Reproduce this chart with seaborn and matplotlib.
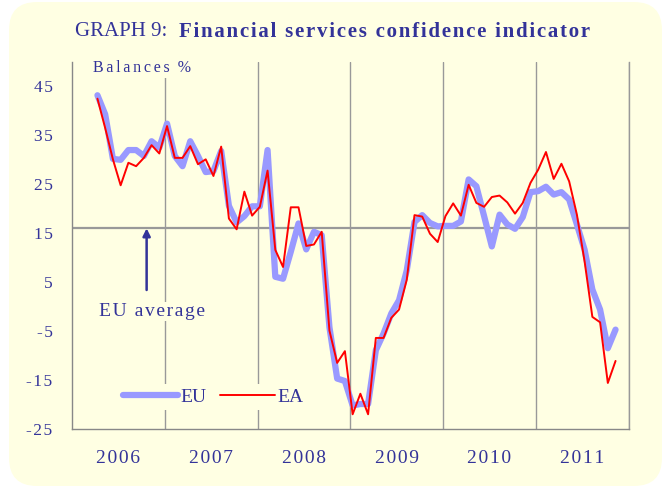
import numpy as np
import pandas as pd
import matplotlib
matplotlib.use('Agg')
import matplotlib.pyplot as plt
import seaborn as sns
from matplotlib.patches import FancyBboxPatch

# Style
sns.set_style('white')
plt.rcParams['font.family'] = ['Liberation Serif', 'DejaVu Serif']
plt.rcParams['axes.unicode_minus'] = False

navy = '#333399'
cream = '#FFFFE3'
grey = '#999999'

# letter spacing helper (the original export is letter spaced)
hair = '\u200a'

# ==========================================================
# Data (monthly balances, April 2006 - November 2011)
# ==========================================================

years = ['2006', '2007', '2008', '2009', '2010', '2011']
yticks = [-25, -15, -5, 5, 15, 25, 35, 45]
first_month = 3  # April 2006, counted from January 2006

eu = [43.2, 39.3, 30.2, 30.0, 32.0, 32.0, 30.8, 33.8, 32.5,
      37.4, 30.8, 28.7, 33.8, 30.8, 27.5, 27.7, 31.8, 20.6, 17.2, 18.5, 20.5, 20.5, 32.0,
      6.1, 5.7, 11.2, 17.0, 11.7, 15.3, 14.6, -4.2, -14.7, -15.2, -20.2, -19.9,
      -19.9, -8.9, -5.5, -1.4, 1.3, 7.4, 17.3, 18.7, 17.1, 16.4, 16.5, 16.5,
      17.4, 26.0, 24.6, 18.5, 12.3, 18.8, 16.8, 15.9, 18.3, 23.4, 23.6, 24.5,
      22.9, 23.4, 21.9, 16.8, 11.6, 3.5, -0.6, -8.5, -4.7]

ea = [42.5, 36.5, 30.1, 24.8, 29.4, 28.7, 30.4, 33.0, 31.3,
      36.9, 30.4, 30.4, 32.8, 29.1, 30.1, 26.7, 32.7, 18.0, 15.8, 23.5, 18.6, 20.4, 27.8,
      11.6, 8.1, 20.3, 20.3, 12.4, 12.7, 15.3, -4.9, -11.5, -9.1, -22.0, -17.8,
      -22.0, -6.4, -6.4, -2.3, -0.6, 5.5, 18.7, 18.4, 14.9, 13.2, 18.5, 21.1,
      18.6, 24.9, 21.2, 20.4, 22.4, 22.7, 21.3, 19.0, 21.2, 25.3, 28.0, 31.6,
      26.1, 29.2, 25.6, 18.8, 9.2, -2.1, -3.2, -15.6, -11.1]

eu_average = 16

months = np.arange(first_month, first_month + len(eu)) + 0.3

df = pd.DataFrame({
    'month': np.concatenate([months, months]),
    'value': eu + ea,
    'series': ['EU'] * len(eu) + ['EA'] * len(ea),
})

# ==========================================================
# Figure
# ==========================================================

fig = plt.figure(figsize=(6.66, 4.88), dpi=100, facecolor='white')

bg = FancyBboxPatch((0.09, 0.02), 6.53, 4.84,
                    boxstyle='round,pad=0,rounding_size=0.28',
                    transform=fig.dpi_scale_trans,
                    facecolor=cream, edgecolor='none', zorder=-10)
fig.add_artist(bg)

ax = fig.add_axes([0.108, 0.121, 0.836, 0.752])
ax.set_facecolor(cream)

sns.lineplot(data=df[df['series'] == 'EU'], x='month', y='value',
             color='#9999FF', linewidth=4.5, label='EU', ax=ax,
             solid_capstyle='round', zorder=3)
sns.lineplot(data=df[df['series'] == 'EA'], x='month', y='value',
             color='#FF0000', linewidth=1.4, label='EA', ax=ax, zorder=4)

ax.axhline(eu_average, color=grey, lw=1.6, zorder=2)

ax.set_xlim(0, 72)
ax.set_ylim(-25, 50)
ax.set_xlabel('')
ax.set_ylabel('')

ax.set_yticks(yticks)
ax.set_yticklabels([hair.join(str(v)) for v in yticks])
ax.set_xticks(range(12, 73, 12))
ax.set_xticklabels([])
ax.set_xticks(np.arange(6, 72, 12), minor=True)
ax.set_xticklabels([hair.join(y) for y in years], minor=True)

ax.tick_params(axis='x', which='both', length=0)
ax.tick_params(axis='x', which='minor', pad=15, labelsize=14, labelcolor=navy)
ax.tick_params(axis='y', direction='in', length=4.5, color='#888888',
               pad=14, labelsize=12.5, labelcolor=navy)
ax.xaxis.grid(True, which='major', color=grey, lw=1, zorder=1)
ax.yaxis.grid(False)

for side in ['left', 'bottom', 'right']:
    ax.spines[side].set_color('#888888')
    ax.spines[side].set_linewidth(1)
ax.spines['top'].set_visible(False)
ax.spines['right'].set_color(grey)

# Annotations
ax.annotate('', xy=(9.66, eu_average), xytext=(9.66, 3.4),
            arrowprops=dict(arrowstyle='-|>', color=navy, lw=1.8,
                            mutation_scale=11, shrinkA=0, shrinkB=0),
            zorder=5)

ax.text(3.49, -1.0, hair.join('EU average'), fontsize=14, color=navy,
        ha='left', va='center',
        bbox=dict(facecolor=cream, edgecolor='none', pad=1), zorder=5)

ax.text(2.7, 48.7, (hair * 2).join('Balances') + '  %', fontsize=11.5,
        color=navy, ha='left', va='center',
        bbox=dict(facecolor=cream, edgecolor='none', pad=1), zorder=5)

leg = ax.legend(loc='center left', bbox_to_anchor=(0.085, 0.087),
                ncol=2, frameon=True, facecolor=cream, edgecolor='none',
                framealpha=1, fontsize=14, handlelength=2.8,
                handletextpad=0.15, columnspacing=0.7, borderpad=0.2,
                borderaxespad=0, labelcolor=navy)
leg.set_zorder(6)

# Title
t1 = fig.text(75 / 666, 1 - 32 / 488, 'GRAPH 9:', fontsize=15, color=navy,
              va='center', ha='left')
fig.canvas.draw()
bb = t1.get_window_extent()
fig.text((bb.x1 + 12) / fig.bbox.width, 1 - 32 / 488,
         hair.join('Financial services confidence indicator'), fontsize=15,
         fontweight='bold', color=navy, va='center', ha='left')

fig.savefig('out.png', dpi=100, facecolor='white')
